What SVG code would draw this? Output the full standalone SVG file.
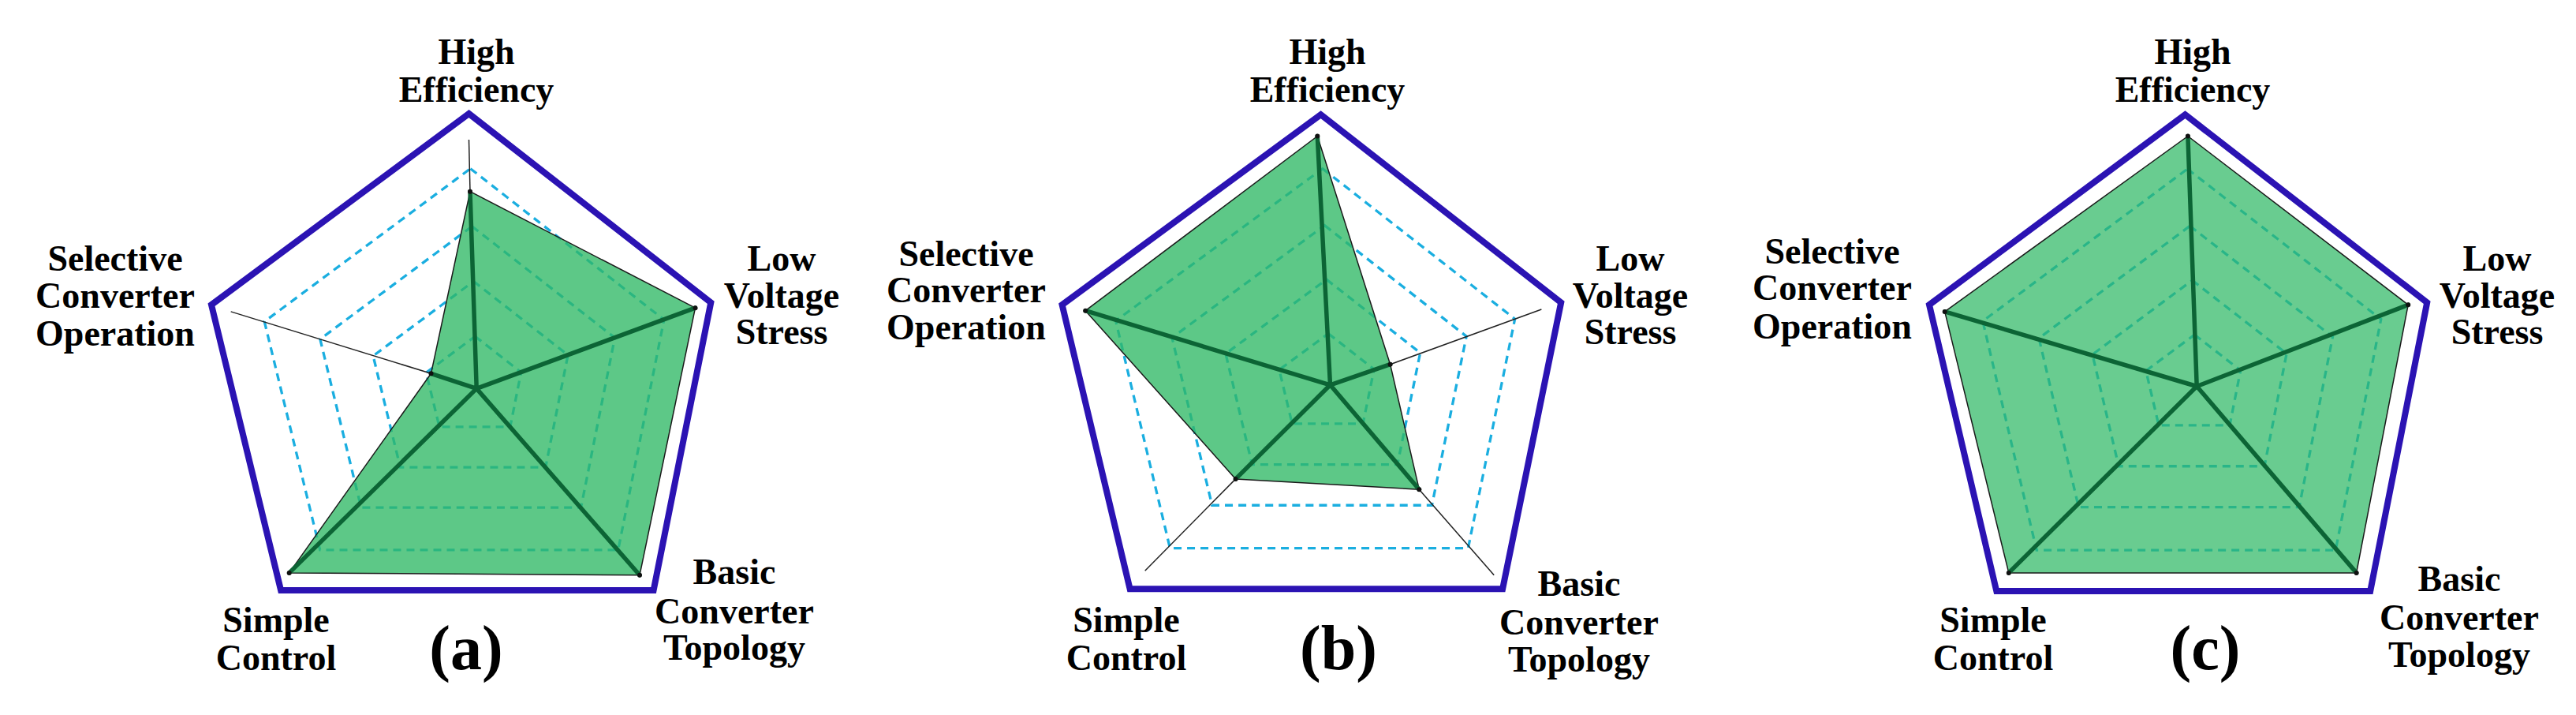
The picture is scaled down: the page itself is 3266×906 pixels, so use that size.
<svg xmlns="http://www.w3.org/2000/svg" xmlns:xlink="http://www.w3.org/1999/xlink" width="3266" height="906" viewBox="0 0 3266 906">
<style>
.outer{fill:none;stroke:#2b13b3;stroke-width:8;stroke-linejoin:miter}
.ring{fill:none;stroke:#1aaee0}
.area{fill:#2fb865;fill-opacity:0.78;stroke:#1a1a1a;stroke-width:1.5;stroke-linejoin:round}
.ax{stroke:#0c6435;stroke-width:5.5;stroke-linecap:round;fill:none}
.thin{stroke:#222;stroke-width:1.5;fill:none}
.dot{fill:#111}
text{font-family:"Liberation Serif","Times New Roman",serif;font-weight:bold;font-size:46px;fill:#000;text-anchor:middle}
.big{font-size:80px}
</style>
<rect width="3266" height="906" fill="#fff"/>
<defs>
<polygon id="oa" points="594.5,144 901.3,383.3 828.6,748 356.1,748 268,386.2"/>
<polygon id="ob" points="1674.5,145.2 1979.2,383.3 1905.1,746.2 1432.6,746.2 1346.6,386.2"/>
<polygon id="oc" points="2770.4,145.2 3077.2,383.3 3005.2,749.1 2531.3,749.1 2446,386.2"/>
</defs>

<g id="chart-a">
<g id="rings-a">
<use xlink:href="#oa" href="#oa" class="ring" transform="translate(604.2,492.4) scale(0.8) translate(-604.2,-492.4)" style="stroke-width:4.1;stroke-dasharray:12.5 8.75"/>
<use xlink:href="#oa" href="#oa" class="ring" transform="translate(604.2,492.4) scale(0.59) translate(-604.2,-492.4)" style="stroke-width:5.6;stroke-dasharray:17 11.9"/>
<use xlink:href="#oa" href="#oa" class="ring" transform="translate(604.2,492.4) scale(0.39) translate(-604.2,-492.4)" style="stroke-width:8.5;stroke-dasharray:25.6 18"/>
<use xlink:href="#oa" href="#oa" class="ring" transform="translate(604.2,492.4) scale(0.19) translate(-604.2,-492.4)" style="stroke-width:17.4;stroke-dasharray:52.6 36.8"/>
</g>
<use id="outer-a" xlink:href="#oa" href="#oa" class="outer"/>
<polygon id="area-a" class="area" points="596,242.7 881.5,390.2 811,728.8 366.7,725.9 546.5,473.3"/>
<g id="axes-a">
<line class="thin" x1="596" y1="242.7" x2="594.5" y2="177"/>
<line class="thin" x1="546.5" y1="473.3" x2="292.7" y2="394.9"/>
<path class="ax" d="M604.2,492.4L596,242.7M604.2,492.4L881.5,390.2M604.2,492.4L811,728.8M604.2,492.4L366.7,725.9M604.2,492.4L546.5,473.3"/>
<circle class="dot" cx="596" cy="242.7" r="3"/><circle class="dot" cx="881.5" cy="390.2" r="3"/><circle class="dot" cx="811" cy="728.8" r="3"/><circle class="dot" cx="366.7" cy="725.9" r="3"/><circle class="dot" cx="546.5" cy="473.3" r="3"/>
</g>
<g id="labels-a">
<text x="604" y="81">High</text><text x="604" y="129">Efficiency</text>
<text x="146" y="343">Selective</text><text x="146" y="390">Converter</text><text x="146" y="438">Operation</text>
<text x="991" y="343">Low</text><text x="991" y="390">Voltage</text><text x="991" y="436">Stress</text>
<text x="350" y="801">Simple</text><text x="350" y="849">Control</text>
<text x="931" y="740">Basic</text><text x="931" y="790">Converter</text><text x="931" y="836">Topology</text>
<text class="big" x="591" y="848">(a)</text>
</g>
</g>

<g id="chart-b">
<g id="rings-b">
<use xlink:href="#ob" href="#ob" class="ring" transform="translate(1686.5,487.8) scale(0.8) translate(-1686.5,-487.8)" style="stroke-width:4.1;stroke-dasharray:12.5 8.75"/>
<use xlink:href="#ob" href="#ob" class="ring" transform="translate(1686.5,487.8) scale(0.59) translate(-1686.5,-487.8)" style="stroke-width:5.6;stroke-dasharray:17 11.9"/>
<use xlink:href="#ob" href="#ob" class="ring" transform="translate(1686.5,487.8) scale(0.39) translate(-1686.5,-487.8)" style="stroke-width:8.5;stroke-dasharray:25.6 18"/>
<use xlink:href="#ob" href="#ob" class="ring" transform="translate(1686.5,487.8) scale(0.19) translate(-1686.5,-487.8)" style="stroke-width:17.4;stroke-dasharray:52.6 36.8"/>
</g>
<use id="outer-b" xlink:href="#ob" href="#ob" class="outer"/>
<polygon id="area-b" class="area" points="1670.3,172.5 1762.6,461.7 1799.3,620.2 1566.6,606.9 1376.2,393.7"/>
<g id="axes-b">
<line class="thin" x1="1762.6" y1="461.7" x2="1954.4" y2="392"/>
<line class="thin" x1="1566.6" y1="606.9" x2="1451.7" y2="723.3"/>
<line class="thin" x1="1799.3" y1="620.2" x2="1894.2" y2="728.8"/>
<path class="ax" d="M1686.5,487.8L1670.3,172.5M1686.5,487.8L1762.6,461.7M1686.5,487.8L1799.3,620.2M1686.5,487.8L1566.6,606.9M1686.5,487.8L1376.2,393.7"/>
<circle class="dot" cx="1670.3" cy="172.5" r="3"/><circle class="dot" cx="1762.6" cy="461.7" r="3"/><circle class="dot" cx="1799.3" cy="620.2" r="3"/><circle class="dot" cx="1566.6" cy="606.9" r="3"/><circle class="dot" cx="1376.2" cy="393.7" r="3"/>
</g>
<g id="labels-b">
<text x="1683" y="81">High</text><text x="1683" y="129">Efficiency</text>
<text x="1225" y="337">Selective</text><text x="1225" y="383">Converter</text><text x="1225" y="430">Operation</text>
<text x="2067" y="343">Low</text><text x="2067" y="390">Voltage</text><text x="2067" y="436">Stress</text>
<text x="1428" y="801">Simple</text><text x="1428" y="849">Control</text>
<text x="2002" y="755">Basic</text><text x="2002" y="804">Converter</text><text x="2002" y="851">Topology</text>
<text class="big" x="1697" y="848">(b)</text>
</g>
</g>

<g id="chart-c">
<g id="rings-c">
<use xlink:href="#oc" href="#oc" class="ring" transform="translate(2785.2,489.5) scale(0.8) translate(-2785.2,-489.5)" style="stroke-width:4.1;stroke-dasharray:12.5 8.75"/>
<use xlink:href="#oc" href="#oc" class="ring" transform="translate(2785.2,489.5) scale(0.59) translate(-2785.2,-489.5)" style="stroke-width:5.6;stroke-dasharray:17 11.9"/>
<use xlink:href="#oc" href="#oc" class="ring" transform="translate(2785.2,489.5) scale(0.39) translate(-2785.2,-489.5)" style="stroke-width:8.5;stroke-dasharray:25.6 18"/>
<use xlink:href="#oc" href="#oc" class="ring" transform="translate(2785.2,489.5) scale(0.19) translate(-2785.2,-489.5)" style="stroke-width:17.4;stroke-dasharray:52.6 36.8"/>
</g>
<use id="outer-c" xlink:href="#oc" href="#oc" class="outer"/>
<polygon id="area-c" class="area" style="fill-opacity:0.72" points="2773.9,172.5 3053.2,386.2 2987.6,725.9 2546.8,725.9 2465.7,394.9"/>
<g id="axes-c">
<path class="ax" d="M2785.2,489.5L2773.9,172.5M2785.2,489.5L3053.2,386.2M2785.2,489.5L2987.6,725.9M2785.2,489.5L2546.8,725.9M2785.2,489.5L2465.7,394.9"/>
<circle class="dot" cx="2773.9" cy="172.5" r="3"/><circle class="dot" cx="3053.2" cy="386.2" r="3"/><circle class="dot" cx="2987.6" cy="725.9" r="3"/><circle class="dot" cx="2546.8" cy="725.9" r="3"/><circle class="dot" cx="2465.7" cy="394.9" r="3"/>
</g>
<g id="labels-c">
<text x="2780" y="81">High</text><text x="2780" y="129">Efficiency</text>
<text x="2323" y="334">Selective</text><text x="2323" y="380">Converter</text><text x="2323" y="429">Operation</text>
<text x="3166" y="343">Low</text><text x="3166" y="390">Voltage</text><text x="3166" y="436">Stress</text>
<text x="2527" y="801">Simple</text><text x="2527" y="849">Control</text>
<text x="3118" y="749">Basic</text><text x="3118" y="798">Converter</text><text x="3118" y="845">Topology</text>
<text class="big" x="2796" y="848">(c)</text>
</g>
</g>
</svg>
